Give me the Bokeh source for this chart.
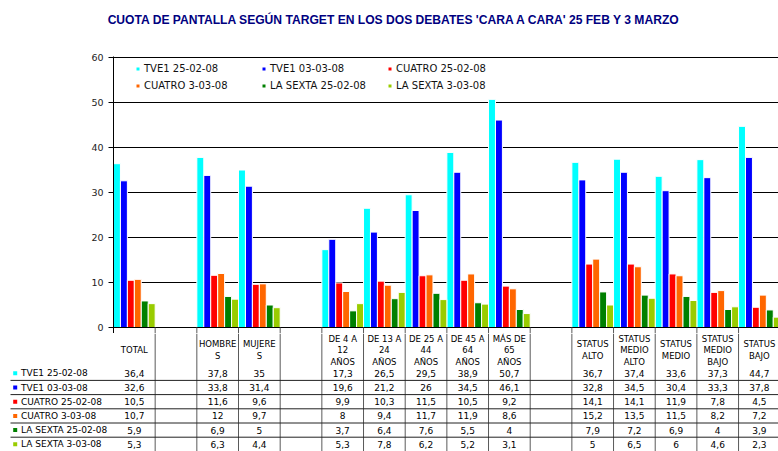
import numpy as np
from bokeh.plotting import figure
from bokeh.models import Range1d, FixedTicker, Legend, LegendItem, ColumnDataSource
from bokeh.layouts import column
from bokeh.embed import file_html
from bokeh.resources import INLINE
from bokeh.core.properties import value

# ---------------- data ----------------
title_text = "CUOTA DE PANTALLA SEGÚN TARGET EN LOS DOS DEBATES 'CARA A CARA' 25 FEB Y 3 MARZO"

categories = ["TOTAL", "", "HOMBRES", "MUJERES", "",
              "DE 4 A 12 AÑOS", "DE 13 A 24 AÑOS", "DE 25 A 44 AÑOS",
              "DE 45 A 64 AÑOS", "MÁS DE 65 AÑOS", "",
              "STATUS ALTO", "STATUS MEDIO ALTO", "STATUS MEDIO",
              "STATUS MEDIO BAJO", "STATUS BAJO"]
# category labels as they are wrapped in the data table
category_labels = ["TOTAL", "", "HOMBRE\nS", "MUJERE\nS", "",
                   "DE 4 A\n12\nAÑOS", "DE 13 A\n24\nAÑOS", "DE 25 A\n44\nAÑOS",
                   "DE 45 A\n64\nAÑOS", "MÁS DE\n65\nAÑOS", "",
                   "STATUS\nALTO", "STATUS\nMEDIO\nALTO", "STATUS\nMEDIO",
                   "STATUS\nMEDIO\nBAJO", "STATUS\nBAJO"]

series_names = ["TVE1 25-02-08", "TVE1 03-03-08", "CUATRO 25-02-08",
                "CUATRO 3-03-08", "LA SEXTA 25-02-08", "LA SEXTA 3-03-08"]
series_colors = ["#00FFFF", "#0000FF", "#FF0000", "#FF6600", "#008000", "#99CC00"]

tve1_25 = [36.4, None, 37.8, 35, None, 17.3, 26.5, 29.5, 38.9, 50.7, None, 36.7, 37.4, 33.6, 37.3, 44.7]
tve1_03 = [32.6, None, 33.8, 31.4, None, 19.6, 21.2, 26, 34.5, 46.1, None, 32.8, 34.5, 30.4, 33.3, 37.8]
cuatro_25 = [10.5, None, 11.6, 9.6, None, 9.9, 10.3, 11.5, 10.5, 9.2, None, 14.1, 14.1, 11.9, 7.8, 4.5]
cuatro_03 = [10.7, None, 12, 9.7, None, 8, 9.4, 11.7, 11.9, 8.6, None, 15.2, 13.5, 11.5, 8.2, 7.2]
lasexta_25 = [5.9, None, 6.9, 5, None, 3.7, 6.4, 7.6, 5.5, 4, None, 7.9, 7.2, 6.9, 4, 3.9]
lasexta_03 = [5.3, None, 6.3, 4.4, None, 5.3, 7.8, 6.2, 5.2, 3.1, None, 5, 6.5, 6, 4.6, 2.3]
series_values = [tve1_25, tve1_03, cuatro_25, cuatro_03, lasexta_25, lasexta_03]

y_ticks = [0, 10, 20, 30, 40, 50, 60]

# ---------------- layout constants ----------------
W = 778
H_T = 40          # title strip
H_A = 293         # chart
H_B = 118         # data table
LEFT = 113
TOP_A = 16
CAT_PX = 41.67
PX_PER_UNIT = 4.5
BELOW0 = 6        # px of the chart frame below the zero line
n_cat = len(categories)
n_ser = len(series_names)
frame_w = W - LEFT
x_end = frame_w / CAT_PX
FONT = "DejaVu Sans"

# ---------------- title strip ----------------
pT = figure(width=W, height=H_T, output_backend="svg", toolbar_location=None,
            x_range=Range1d(0, W), y_range=Range1d(H_T, 0),
            x_axis_location=None, y_axis_location=None,
            min_border=0, min_border_left=0, min_border_right=0,
            min_border_top=0, min_border_bottom=0, frame_align=False)
pT.outline_line_color = None
for g in pT.grid:
    g.visible = False
pT.text(x=[394], y=[19], text=[title_text], text_align="center", text_baseline="middle",
        text_font=value("Liberation Sans"), text_font_style="bold",
        text_font_size="12.1px", text_color="#000080")

# ---------------- chart ----------------
pA = figure(width=W, height=H_A, output_backend="svg", toolbar_location=None,
            x_range=Range1d(0, x_end),
            y_range=Range1d(-BELOW0 / PX_PER_UNIT, 60 + 1 / PX_PER_UNIT),
            x_axis_location=None, y_axis_location="left",
            min_border_left=LEFT, min_border_right=0, min_border_top=TOP_A,
            min_border_bottom=0, frame_align=False)
pA.outline_line_color = None

ax = pA.yaxis[0]
ax.ticker = FixedTicker(ticks=y_ticks)
ax.major_tick_out = 5
ax.major_tick_in = 0
ax.minor_tick_line_color = None
ax.axis_line_color = "black"
ax.major_tick_line_color = "black"
ax.major_label_text_font = FONT
ax.major_label_text_font_size = "9.5px"
ax.major_label_text_color = "#222222"
ax.major_label_standoff = 5

for g in pA.ygrid:
    g.ticker = FixedTicker(ticks=y_ticks[1:])
    g.grid_line_color = "black"
    g.grid_line_width = 1
for g in pA.xgrid:
    g.visible = False

renderers = []
for j in range(n_ser):
    vals = series_values[j]
    xs = [i + (j + 0.5) / n_ser for i, v in enumerate(vals) if v is not None]
    tops = [v for v in vals if v is not None]
    src = ColumnDataSource(dict(x=xs, top=tops))
    r = pA.vbar(x="x", top="top", bottom=0, width=1 / n_ser, source=src,
                fill_color=series_colors[j], line_color="white", line_width=1)
    renderers.append(r)

# category axis line and the start of the table separators
bounds = np.arange(1, n_cat + 1)
pA.segment(x0=0, y0=0, x1=x_end, y1=0, line_color="black", line_width=1)
pA.segment(x0=bounds, y0=0, x1=bounds, y1=-BELOW0 / PX_PER_UNIT,
           line_color="#5a5a5a", line_width=1)

legend = Legend(items=[LegendItem(label=series_names[j], renderers=[renderers[j]])
                       for j in range(n_ser)],
                ncols=3, orientation="horizontal",
                location=(22, 241),
                glyph_width=5, glyph_height=5,
                label_text_font=FONT, label_text_font_size="10px",
                label_text_color="#111111",
                label_height=13, label_width=113, label_standoff=4,
                spacing=4, padding=0, margin=0,
                border_line_color=None, background_fill_alpha=0)
pA.add_layout(legend)

# ---------------- data table ----------------
pB = figure(width=W, height=H_B, output_backend="svg", toolbar_location=None,
            x_range=Range1d(-LEFT / CAT_PX, x_end), y_range=Range1d(H_B, 0),
            x_axis_location=None, y_axis_location=None,
            min_border=0, min_border_left=0, min_border_right=0,
            min_border_top=0, min_border_bottom=0, frame_align=False)
pB.outline_line_color = None
for g in pB.grid:
    g.visible = False

HEADER_Y = 16.5
ROW0 = 39.8
ROW_H = 14.2
row_y = [ROW0 + ROW_H * j for j in range(n_ser)]

# vertical cell separators
pB.segment(x0=bounds, y0=0, x1=bounds, y1=H_B, line_color="#5a5a5a", line_width=1)

# horizontal row separators
seps = [row_y[j] + ROW_H / 2 for j in range(n_ser - 1)]
x_tab_left = (10 - LEFT) / CAT_PX
pB.segment(x0=x_tab_left, y0=seps, x1=x_end, y1=seps, line_color="#222222", line_width=1)

# header labels
pB.text(x=[i + 0.5 for i in range(n_cat)], y=HEADER_Y, text=category_labels,
        text_align="center", text_baseline="middle", text_font=value(FONT),
        text_font_size="8.5px", text_line_height=1.15, text_color="black")

# values
for j in range(n_ser):
    vals = series_values[j]
    xs = [i + 0.5 for i, v in enumerate(vals) if v is not None]
    labels = [f"{v:g}".replace(".", ",") for v in vals if v is not None]
    pB.text(x=xs, y=row_y[j], text=labels, text_align="center", text_baseline="middle",
            text_font=value(FONT), text_font_size="9px", text_color="black")

# legend keys and series names
pB.rect(x=(14.7 - LEFT) / CAT_PX, y=row_y, width=4, height=4, width_units="screen",
        height_units="screen", fill_color=series_colors, line_color=None)
pB.text(x=(20.5 - LEFT) / CAT_PX, y=row_y, text=series_names, text_align="left",
        text_baseline="middle", text_font=value(FONT), text_font_size="9px",
        text_color="black")

layout = column(pT, pA, pB, spacing=0)
open("out.html", "w").write(file_html(layout, INLINE))
